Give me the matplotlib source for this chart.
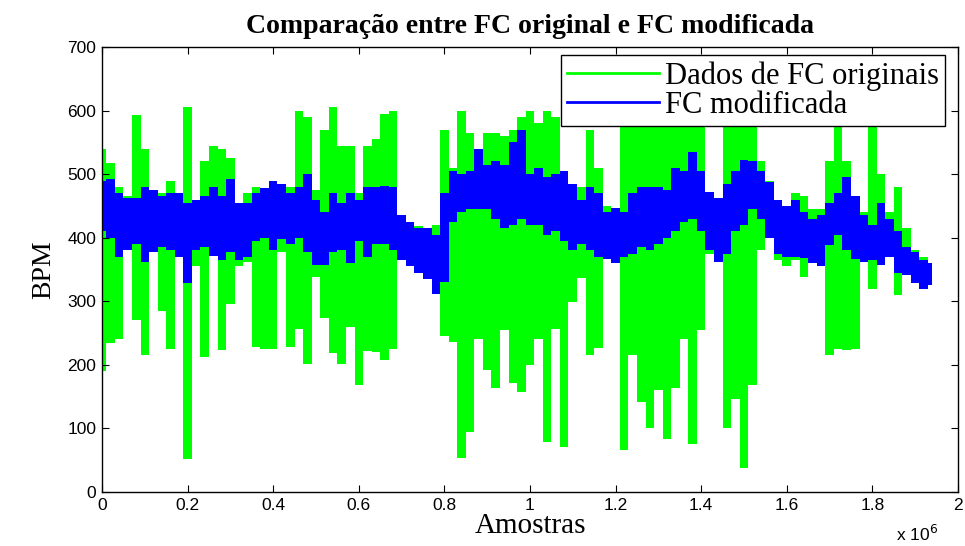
import numpy as np
import matplotlib
matplotlib.use("Agg")
import matplotlib.pyplot as plt
from matplotlib.lines import Line2D

# amostras agrupadas em blocos de 20 mil; para cada bloco, faixa (min/max) do sinal
amostras = np.arange(98) * 0.02e6

fc_orig_max = [540, 517, 480, 465, 593, 540, 475, 470, 490, 470,
               606, 460, 520, 545, 540, 525, 450, 470, 480, 470,
               485, 480, 480, 600, 590, 475, 570, 605, 545, 545,
               470, 545, 555, 595, 600, 435, 425, 418, 410, 420,
               570, 510, 600, 565, 515, 565, 565, 560, 570, 590,
               600, 580, 600, 590, 490, 470, 480, 570, 510, 450,
               430, 600, 600, 600, 600, 580, 600, 580, 600, 600,
               590, 460, 460, 600, 600, 600, 600, 520, 490, 460,
               440, 470, 465, 445, 445, 520, 600, 520, 460, 440,
               575, 500, 440, 480, 415, 380, 370, 355]
fc_orig_min = [190, 234, 240, 385, 270, 215, 380, 285, 225, 375,
               52, 355, 213, 380, 223, 295, 355, 362, 228, 225,
               225, 378, 228, 257, 202, 338, 273, 218, 202, 260,
               168, 222, 220, 207, 225, 370, 360, 350, 335, 320,
               245, 236, 53, 95, 241, 192, 163, 255, 171, 158,
               200, 240, 79, 257, 71, 299, 336, 215, 226, 400,
               400, 66, 215, 142, 100, 160, 84, 163, 241, 76,
               255, 375, 370, 100, 147, 37, 168, 380, 400, 365,
               355, 365, 338, 385, 370, 215, 225, 223, 225, 390,
               320, 360, 370, 310, 370, 340, 330, 325]

fc_mod_max = [490, 493, 470, 462, 462, 480, 475, 465, 470, 470,
              455, 460, 465, 480, 465, 492, 455, 455, 470, 478,
              490, 485, 470, 480, 500, 460, 440, 470, 455, 470,
              460, 480, 480, 482, 480, 435, 425, 415, 415, 404,
              470, 505, 500, 505, 540, 515, 520, 515, 550, 570,
              500, 510, 495, 500, 505, 485, 460, 480, 470, 440,
              446, 440, 470, 480, 480, 480, 475, 510, 505, 535,
              505, 472, 462, 485, 505, 522, 520, 505, 488, 460,
              450, 460, 440, 430, 436, 455, 470, 495, 465, 435,
              420, 455, 430, 410, 385, 378, 365, 360]
fc_mod_min = [410, 400, 370, 380, 390, 362, 378, 385, 380, 370,
              328, 380, 385, 372, 365, 378, 365, 370, 395, 400,
              380, 398, 390, 400, 378, 357, 357, 378, 380, 360,
              395, 370, 390, 390, 380, 365, 355, 345, 335, 312,
              330, 425, 440, 445, 445, 445, 430, 415, 420, 430,
              420, 420, 405, 410, 395, 380, 390, 380, 370, 367,
              360, 370, 375, 385, 380, 390, 400, 410, 425, 430,
              410, 380, 362, 375, 410, 420, 445, 430, 399, 375,
              370, 370, 368, 360, 355, 388, 405, 380, 367, 362,
              365, 357, 370, 344, 341, 328, 320, 325]

verde = (0, 1, 0)
azul = (0, 0, 1)
serif = ['Liberation Serif', 'DejaVu Serif']
narrow = ['Liberation Sans Narrow', 'Liberation Sans', 'DejaVu Sans']

fig = plt.figure(figsize=(9.65, 5.46), dpi=100)
ax = fig.add_axes([0.1057, 0.0989, 0.887, 0.815])

ax.fill_between(amostras, fc_orig_min, fc_orig_max, step='mid', color=verde, lw=0)
ax.fill_between(amostras, fc_mod_min, fc_mod_max, step='mid', color=azul, lw=0)

ax.set_xlim(0, 2e6)
ax.set_ylim(0, 700)
ax.set_xticks(np.arange(0, 2.01e6, 0.2e6))
ax.set_xticklabels(['0', '0.2', '0.4', '0.6', '0.8', '1', '1.2', '1.4', '1.6', '1.8', '2'])
ax.set_yticks(np.arange(0, 701, 100))
ax.tick_params(direction='in', length=5, width=0.8, top=True, right=True,
               labelsize=12.5, pad=4)
for lab in ax.get_xticklabels() + ax.get_yticklabels():
    lab.set_family(narrow)
for s in ax.spines.values():
    s.set_linewidth(1.0)

ax.set_title(u'Comparação entre FC original e FC modificada', family=serif,
             fontsize=20, fontweight='bold', pad=10)
ax.set_ylabel('BPM', family=serif, fontsize=20, labelpad=8)
ax.set_xlabel('Amostras', family=serif, fontsize=21, labelpad=0)
fig.text(0.928, 0.004, r'x 10$^6$', family=narrow, fontsize=12.5, ha='left', va='bottom')

handles = [Line2D([], [], color=verde, lw=2), Line2D([], [], color=azul, lw=2)]
leg = ax.legend(handles, ['Dados de FC originais', 'FC modificada'],
                loc='upper right', bbox_to_anchor=(0.985, 0.982), borderaxespad=0,
                prop={'family': serif, 'size': 22}, handlelength=3.0,
                handletextpad=0.2, labelspacing=0.0, borderpad=0.2,
                fancybox=False, framealpha=1, edgecolor='black')
leg.get_frame().set_linewidth(1.0)

plt.savefig('out.png', dpi=100)
plt.close()
